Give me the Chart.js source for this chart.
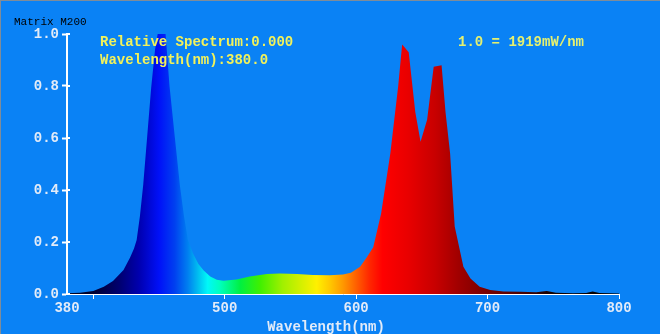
<!DOCTYPE html>
<html>
<head>
<meta charset="utf-8">
<script src="https://cdn.jsdelivr.net/npm/chart.js@4"></script>
<style>
html, body { margin: 0; padding: 0; background: #0a82f5; }
#wrap { width: 660px; height: 334px; position: relative; }
</style>
</head>
<body>
<div id="wrap"><canvas id="spectrum"></canvas></div>
<script>
// measured spectrum, wavelength in nm and relative power (1.0 = 1919 mW/nm)
const wavelengths = [380, 390, 400, 408, 415, 423, 428, 431, 433, 435.5, 438, 441, 444, 447, 449, 452, 455, 458, 462, 466, 469, 472, 476, 480, 484, 489, 494, 499,
    509, 519, 532, 542, 555, 567, 580, 590, 596, 603, 608, 613, 619, 626, 632, 635, 640, 645, 649, 654, 659, 665, 668, 671.5, 675,
    681.6, 687, 694, 702, 712, 725, 737, 745, 752, 765, 775, 780, 785, 800];
const relative = [0.003, 0.005, 0.012, 0.028, 0.05, 0.092, 0.14, 0.175, 0.208, 0.30, 0.42, 0.605, 0.79, 0.94, 1.0, 1.0, 1.0, 0.80, 0.605, 0.413, 0.30, 0.208, 0.155, 0.115, 0.09, 0.067, 0.055, 0.051,
    0.056, 0.067, 0.077, 0.079, 0.077, 0.073, 0.072, 0.075, 0.082, 0.105, 0.14, 0.18, 0.31, 0.54, 0.80, 0.96, 0.93, 0.70, 0.586, 0.67, 0.874, 0.88, 0.70, 0.54, 0.26,
    0.105, 0.06, 0.028, 0.015, 0.01, 0.009, 0.007, 0.012, 0.005, 0.003, 0.004, 0.01, 0.004, 0.002];
const xTicks = [380, 400, 500, 600, 700, 800];
const yTicks = [0, 0.2, 0.4, 0.6, 0.8, 1.0];

// colour of light along the wavelength axis
const colourStops = [
    [380, '#000018'], [400, '#000030'], [420, '#000070'], [435, '#0000b0'], [450, '#0010f8'],
    [462, '#0040f0'], [472, '#0080f0'], [480, '#00c0f0'], [487, '#00f8f8'], [496, '#00ffc0'],
    [512, '#00f040'], [527, '#40f000'], [544, '#a0f000'], [557, '#d0f000'], [570, '#fff000'],
    [580, '#ffc800'], [590, '#ff9800'], [600, '#ff6000'], [610, '#ff2800'], [620, '#ff0000'],
    [640, '#e80000'], [660, '#c80000'], [678, '#a00000'], [695, '#800000'], [715, '#600000'],
    [735, '#380000'], [750, '#100000'], [800, '#000000']
];

const labelFont = { family: '"Liberation Mono", monospace', size: 14, weight: 'bold' };
const labelColour = '#e2ebf8';

function spectrumFill(chart) {
    const { ctx, chartArea, scales } = chart;
    if (!chartArea) return 'rgba(0,0,0,0)';
    const x0 = scales.x.getPixelForValue(380);
    const x1 = scales.x.getPixelForValue(800);
    const g = ctx.createLinearGradient(x0, 0, x1, 0);
    colourStops.forEach(([w, c]) => g.addColorStop((w - 380) / 420, c));
    return g;
}

const frame = {
    id: 'frame',
    beforeDraw(chart) {
        const ctx = chart.ctx;
        ctx.save();
        ctx.fillStyle = '#0a82f5';
        ctx.fillRect(0, 0, chart.width, chart.height);
        ctx.fillStyle = '#7f8c99';
        ctx.fillRect(0, 0, chart.width, 1);
        ctx.fillRect(0, 0, 1, chart.height);
        ctx.restore();
    },
    afterDraw(chart) {
        const ctx = chart.ctx;
        ctx.save();
        ctx.textBaseline = 'middle';
        ctx.textAlign = 'left';
        ctx.fillStyle = '#000000';
        ctx.font = '11px "Liberation Mono", monospace';
        ctx.fillText('Matrix M200', 14, 22);

        ctx.font = 'bold 14px "Liberation Mono", monospace';
        ctx.fillStyle = '#f2f25a';
        ctx.fillText('Relative Spectrum:0.000', 100, 42);
        ctx.fillText('Wavelength(nm):380.0', 100, 60);
        ctx.fillStyle = '#e4f070';
        ctx.fillText('1.0 = 1919mW/nm', 458, 42);

        ctx.textAlign = 'center';
        ctx.fillStyle = labelColour;
        ctx.fillText('Wavelength(nm)', 326, 327);

        // y tick marks also poke a little into the plot
        const y = chart.scales.y;
        const left = chart.chartArea.left;
        ctx.fillStyle = '#ffffff';
        yTicks.forEach(v => {
            const py = Math.round(y.getPixelForValue(v));
            ctx.fillRect(left, py - 1, 3, 2);
        });
        ctx.restore();
    }
};

new Chart(document.getElementById('spectrum'), {
    type: 'line',
    data: {
        datasets: [{
            data: wavelengths.map((w, i) => ({ x: w, y: relative[i] })),
            fill: 'origin',
            backgroundColor: ctx => spectrumFill(ctx.chart),
            borderWidth: 0,
            borderColor: 'rgba(0,0,0,0)',
            pointRadius: 0,
            tension: 0
        }]
    },
    options: {
        responsive: true,
        maintainAspectRatio: false,
        animation: false,
        layout: { padding: { left: 0, top: 34, right: 41, bottom: 0 } },
        plugins: { legend: { display: false }, tooltip: { enabled: false } },
        scales: {
            x: {
                type: 'linear',
                min: 380,
                max: 800,
                afterBuildTicks: s => { s.ticks = xTicks.map(v => ({ value: v })); },
                afterFit: s => { s.height = 40; },
                ticks: {
                    callback: v => (v === 400 ? '' : v),
                    color: labelColour,
                    font: labelFont,
                    maxRotation: 0,
                    autoSkip: false,
                    padding: 1
                },
                grid: {
                    drawOnChartArea: false,
                    drawTicks: true,
                    tickLength: 5,
                    tickWidth: 1,
                    tickColor: c => (c.tick && c.tick.value === 380 ? 'rgba(0,0,0,0)' : '#ffffff')
                },
                border: { color: '#ffffff', width: 1 }
            },
            y: {
                min: 0,
                max: 1,
                afterBuildTicks: s => { s.ticks = yTicks.map(v => ({ value: v })); },
                afterFit: s => { s.width = 67; },
                ticks: {
                    callback: v => v.toFixed(1),
                    color: labelColour,
                    font: labelFont,
                    padding: 3
                },
                grid: {
                    drawOnChartArea: false,
                    drawTicks: true,
                    tickLength: 5,
                    tickWidth: 2,
                    tickColor: '#ffffff'
                },
                border: { color: '#ffffff', width: 2 }
            }
        }
    },
    plugins: [frame]
});
</script>
</body>
</html>
